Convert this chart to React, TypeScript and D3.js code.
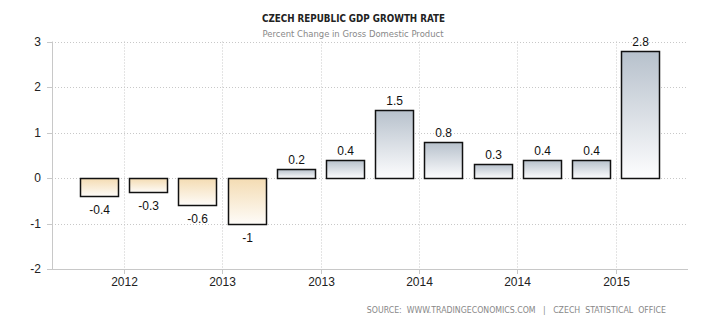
import React from "react";
import * as d3 from "d3";

const quarters = ["2011Q4","2012Q1","2012Q2","2012Q3","2012Q4","2013Q1","2013Q2","2013Q3","2013Q4","2014Q1","2014Q2","2014Q3"];
const values = [-0.4, -0.3, -0.6, -1, 0.2, 0.4, 1.5, 0.8, 0.3, 0.4, 0.4, 2.8];
const valueLabels = ["-0.4","-0.3","-0.6","-1","0.2","0.4","1.5","0.8","0.3","0.4","0.4","2.8"];
const yTicks = [3, 2, 1, 0, -1, -2];
const xTickAfter = ["2011Q4","2012Q2","2012Q4","2013Q2","2013Q4","2014Q2"];
const xTickLabels = ["2012","2013","2013","2014","2014","2015"];

const W = 710, H = 325;
const plotL = 52, plotR = 688, plotT = 41.5, plotB = 269;

export default function App() {
  const y = d3.scaleLinear().domain([-2, 3]).range([plotB, plotT]);
  const x = d3.scaleBand().domain(quarters).range([74.5, 665]).paddingInner(0.22).paddingOuter(0.11);
  const step = x.step();
  const font = "'Liberation Sans', Arial, sans-serif";
  return (
    <svg width={W} height={H} style={{ position: "absolute", left: 0, top: 0 }} xmlns="http://www.w3.org/2000/svg">
      <defs>
        <linearGradient id="gPos" x1="0" y1="0" x2="0" y2="1">
          <stop offset="0%" stopColor="#b7c1cc" />
          <stop offset="100%" stopColor="#fdfdfe" />
        </linearGradient>
        <linearGradient id="gNeg" x1="0" y1="0" x2="0" y2="1">
          <stop offset="0%" stopColor="#f4dcb3" />
          <stop offset="100%" stopColor="#fefcf9" />
        </linearGradient>
      </defs>
      <rect x={0} y={0} width={W} height={H} fill="#fff" />
      <text x={353.5} y={22} textAnchor="middle" fontFamily="'DejaVu Sans Condensed', Tahoma, sans-serif" fontWeight="bold" fontSize={11} fill="#222" textLength={183} lengthAdjust="spacingAndGlyphs">CZECH REPUBLIC GDP GROWTH RATE</text>
      <text x={353} y={37} textAnchor="middle" fontFamily="'DejaVu Sans', Tahoma, sans-serif" fontSize={9} fill="#888" textLength={181} lengthAdjust="spacingAndGlyphs">Percent Change in Gross Domestic Product</text>
      {yTicks.filter(t => t > -2).map(t => (
        <line key={"h" + t} x1={plotL} x2={plotR} y1={Math.round(y(t)) + 0.5} y2={Math.round(y(t)) + 0.5} stroke="#c8c8c8" strokeDasharray="1,2" />
      ))}
      {xTickAfter.map((q, i) => {
        const gx = Math.round((x(q) as number) + x.bandwidth() + (step - x.bandwidth()) / 2) + 0.5;
        return (
          <g key={"v" + i}>
            <line x1={gx} x2={gx} y1={plotT} y2={plotB} stroke="#c8c8c8" strokeDasharray="1,2" />
            <line x1={gx} x2={gx} y1={plotB} y2={plotB + 5} stroke="#c8c8c8" />
            <text x={gx} y={286} textAnchor="middle" fontFamily={font} fontSize={12} fill="#222">{xTickLabels[i]}</text>
          </g>
        );
      })}
      <line x1={plotL + 0.5} x2={plotL + 0.5} y1={plotT} y2={plotB} stroke="#c8c8c8" />
      <line x1={plotL} x2={plotR} y1={plotB + 0.5} y2={plotB + 0.5} stroke="#c8c8c8" />
      {yTicks.map(t => (
        <g key={"yt" + t}>
          <line x1={plotL - 5} x2={plotL} y1={Math.round(y(t)) + 0.5} y2={Math.round(y(t)) + 0.5} stroke="#c8c8c8" />
          <text x={41} y={y(t) + 4} textAnchor="end" fontFamily={font} fontSize={12} fill="#222">{t}</text>
        </g>
      ))}
      {quarters.map((q, i) => {
        const v = values[i];
        const bx = Math.round(x(q) as number) + 0.5;
        const y0 = Math.round(y(Math.max(0, v))) + 0.5;
        const y1 = Math.round(y(Math.min(0, v))) + 0.5;
        return (
          <g key={q}>
            <rect x={bx} y={y0} width={Math.round(x.bandwidth())} height={y1 - y0} fill={v >= 0 ? "url(#gPos)" : "url(#gNeg)"} stroke="#111" strokeWidth={1.5} />
            <text x={bx + x.bandwidth() / 2} y={v >= 0 ? y0 - 6 : y1 + 17} textAnchor="middle" fontFamily={font} fontSize={12} fill="#111">{valueLabels[i]}</text>
          </g>
        );
      })}
      <text x={666} y={313} textAnchor="end" fontFamily="'DejaVu Sans Condensed', Tahoma, sans-serif" fontSize={8.7} fill="#888" style={{ whiteSpace: "pre" }}>{"SOURCE:  WWW.TRADINGECONOMICS.COM   |   CZECH  STATISTICAL  OFFICE"}</text>
    </svg>
  );
}
